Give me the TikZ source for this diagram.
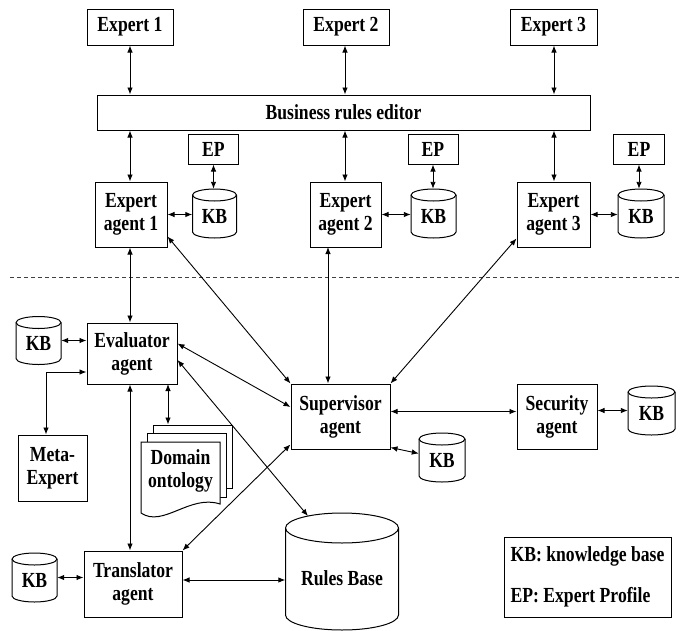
\documentclass[tikz,border=0pt]{standalone}
\usepackage{fontspec}
\setmainfont{Liberation Serif}[FakeStretch=0.82]
\usetikzlibrary{arrows.meta,calc}

\tikzset{
  boxline/.style={line width=1pt, draw=black},
  lbl/.style={font=\bfseries\fontsize{21.5}{23}\selectfont, align=center, inner sep=0pt},
  box/.style={lbl, boxline, fill=white, rectangle},
  sheet/.style={boxline, fill=white, rectangle, inner sep=0pt},
  dbbody/.style={rectangle, inner sep=0pt, draw=none},
  link/.style={line width=0.9pt, {Latex[length=7pt,width=5.5pt]}-{Latex[length=7pt,width=5.5pt]}},
  sep/.style={line width=0.8pt, draw=black!75, dash pattern=on 4pt off 3pt},
}

% cylinder store: name, centre, width, height, ellipse radius, text, text drop
\newcommand{\dbnode}[7]{%
  \pgfmathsetmacro\dbw{#3/2}\pgfmathsetmacro\dbh{#4/2}%
  \draw[boxline, fill=white, shift={(#2)}]
    (-\dbw pt,\dbh pt-#5pt) -- (-\dbw pt,-\dbh pt+#5pt)
    arc[start angle=180,end angle=360,x radius=\dbw pt,y radius=#5pt]
    -- (\dbw pt,\dbh pt-#5pt)
    arc[start angle=0,end angle=180,x radius=\dbw pt,y radius=#5pt] -- cycle;
  \draw[boxline, shift={(#2)}] (-\dbw pt,\dbh pt-#5pt)
    arc[start angle=180,end angle=360,x radius=\dbw pt,y radius=#5pt];
  \node[dbbody, minimum width=#3pt, minimum height=#4pt] (#1) at (#2) {};
  \node[lbl] (#1-t) at ([yshift=-#7pt]#1.center) {#6};
}

\begin{document}
\begin{tikzpicture}[x=1pt,y=-1pt]
\useasboundingbox (0,0) rectangle (686,630);

% ---------- experts and editor ----------
\node[box, minimum width=86pt, minimum height=36pt] (e1) at (130,27) {Expert 1};
\node[box, minimum width=86pt, minimum height=36pt] (e2) at (346,27) {Expert 2};
\node[box, minimum width=87pt, minimum height=36pt] (e3) at (553.5,27) {Expert 3};
\node[box, minimum width=493pt, minimum height=35pt] (ed) at (343.5,112.5) {Business rules editor};

\node[box, minimum width=50pt, minimum height=30pt] (ep1) at (213.5,149) {EP};
\node[box, minimum width=50pt, minimum height=30pt] (ep2) at (433,149) {EP};
\node[box, minimum width=51pt, minimum height=30pt] (ep3) at (639,149) {EP};

\node[box, minimum width=72pt, minimum height=65pt] (a1) at (131,214.5) {Expert\\agent 1};
\node[box, minimum width=71pt, minimum height=65pt] (a2) at (345.5,214.5) {Expert\\agent 2};
\node[box, minimum width=73pt, minimum height=65pt] (a3) at (553.5,214.5) {Expert\\agent 3};

\dbnode{kb1}{214.5,213.5}{44}{49}{6}{KB}{3}
\dbnode{kb2}{433.5,213.5}{45}{49}{6}{KB}{3}
\dbnode{kb3}{641,213.5}{46}{49}{6}{KB}{3}

\draw[link] (e1.south) -- (e1.south |- ed.north);
\draw[link] (e2.south -| 345,0) -- (ed.north -| 345,0);
\draw[link] (e3.south -| 554,0) -- (ed.north -| 554,0);
\draw[link] (ed.south -| 130,0) -- (a1.north -| 130,0);
\draw[link] (ed.south -| 345,0) -- (a2.north -| 345,0);
\draw[link] (ed.south -| 554,0) -- (a3.north -| 554,0);

\draw[link] (ep1.south) -- (ep1.south |- kb1.north);
\draw[link] (ep2.south) -- (ep2.south |- kb2.north);
\draw[link] (ep3.south) -- (ep3.south |- kb3.north);
\draw[link] (a1.east) -- (a1.east -| kb1.west);
\draw[link] (a2.east) -- (a2.east -| kb2.west);
\draw[link] (a3.east) -- (a3.east -| kb3.west);

% ---------- separator ----------
\coordinate (sepL) at (10,277);
\coordinate (sepR) at (680,277);
\draw[sep] (sepL) -- (sepR);

% ---------- lower agents ----------
\node[box, minimum width=90pt, minimum height=61pt] (ev) at (132,353.5) {Evaluator\\agent};
\node[box, minimum width=69pt, minimum height=66pt] (me) at (52.5,468) {Meta-\\Expert};
\node[box, minimum width=99pt, minimum height=65pt] (sv) at (340.5,416.5) {Supervisor\\agent};
\node[box, minimum width=80pt, minimum height=65pt] (sc) at (557,416.5) {Security\\agent};
\node[box, minimum width=98pt, minimum height=66pt] (tr) at (133,584) {Translator\\agent};

\dbnode{kbl}{38.5,340.5}{45}{48}{6}{KB}{3}
\dbnode{kbr}{651.5,410.5}{47}{49}{6}{KB}{3}
\dbnode{kbs}{442,457.5}{46}{49}{6}{KB}{3}
\dbnode{kbt}{34.5,577.5}{45}{49}{6}{KB}{3}
\dbnode{rb}{342,571.5}{113}{117}{15}{Rules Base}{7}

% domain ontology: stacked documents
\node[sheet, minimum width=79pt, minimum height=63pt] (dom3) at (192.5,456.5) {};
\node[sheet, minimum width=79pt, minimum height=64pt] (dom2) at (186.5,465) {};
\draw[boxline, fill=white] (141,442) -- (141,513)
  .. controls (163,528) and (190,494) .. (220,504) -- (220,442) -- cycle;
\node[lbl] (dom) at (180.5,471) {Domain\\ontology};

% legend
\node[box, minimum width=167pt, minimum height=80pt,
      font=\bfseries\fontsize{21.5}{41}\selectfont, align=left] (leg) at (587.5,577)
  {KB: knowledge base\\EP: Expert Profile};

% ---------- connectors ----------
\draw[link] (a1.south -| 130,0) -- (ev.north -| 130,0);
\coordinate (a2s) at (328,247);
\draw[link] (a2s) -- (a2s |- sv.north);
\draw[link] ([yshift=-22pt]a1.east) -- (sv.north west);
\draw[link] ([yshift=-24pt]a3.west) -- (sv.north east);

\draw[link] (kbl.east) -- (kbl.east -| ev.west);
\draw[link] ([yshift=-18.5pt]ev.west) -| ([xshift=-6.5pt]me.north);
\coordinate (evd) at (168,384);
\draw[link] (evd) -- (evd |- dom3.north);
\draw[link] ([yshift=10pt]ev.east) -- ([yshift=9.5pt]sv.west);
\coordinate (rbtop) at (308,516);
\draw[link] ([yshift=-6.5pt]ev.east) -- (rbtop);
\draw[link] (ev.south -| 130,0) -- (tr.north -| 130,0);

\draw[link] ([yshift=5pt]sv.east) -- ([yshift=5pt]sv.east -| sc.west);
\draw[link] ([yshift=2pt]sv.south east) -- ([yshift=4pt]kbs.west);
\draw[link] (kbr.west -| sc.east) -- (kbr.west);

\draw[link] (tr.north east) -- ([yshift=5pt]sv.south west);
\draw[link] (kbt.east) -- (kbt.east -| tr.west);
\draw[link] ([yshift=4pt]tr.east) -- ([yshift=4pt]tr.east -| rb.west);

\end{tikzpicture}
\end{document}
